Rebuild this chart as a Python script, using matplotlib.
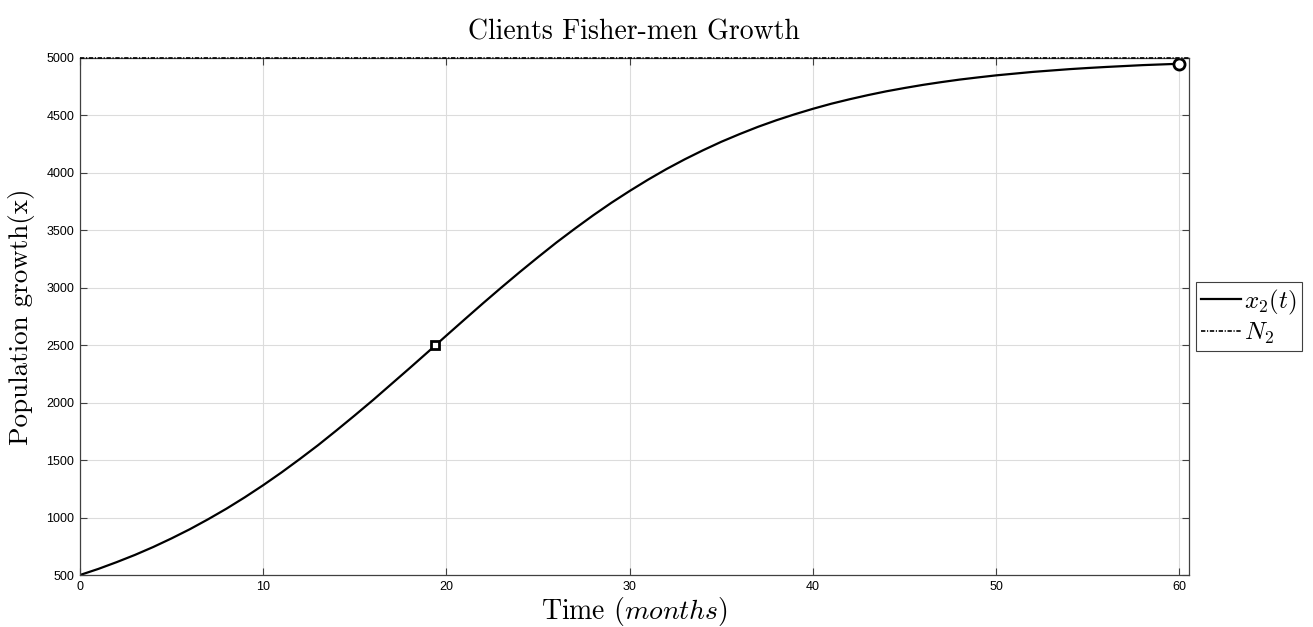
import matplotlib
matplotlib.use('Agg')
import matplotlib.pyplot as plt

plt.rcParams['mathtext.fontset'] = 'cm'
plt.rcParams['axes.unicode_minus'] = False

# time (months) and x2(t)
t = list(range(0, 61))
x2 = [500, 553, 612, 675, 744, 819, 899, 986, 1078, 1177,
      1282, 1393, 1510, 1631, 1759, 1890, 2024, 2163, 2302, 2443,
      2585, 2726, 2866, 3003, 3137, 3267, 3394, 3514, 3630, 3740,
      3843, 3941, 4033, 4118, 4197, 4271, 4338, 4401, 4458, 4510,
      4558, 4602, 4641, 4677, 4710, 4739, 4766, 4790, 4812, 4831,
      4849, 4864, 4879, 4891, 4903, 4913, 4922, 4930, 4938, 4944,
      4950]
N2 = 5000
t_half, x_half = 19.4, 2500   # inflection point (square)
t_end, x_end = 60, 4950       # final point (circle)

fig = plt.figure(figsize=(13.13, 6.27), dpi=100)
ax = fig.add_axes([0.0609, 0.0829, 0.8444, 0.8246])

ax.plot(t, x2, color='black', lw=1.6, label=r'$x_2(t)$')
ax.plot([0, 60.5], [N2, N2], color='black', lw=1.2,
        dashes=[2.6, 1.0, 0.7, 1.0], label=r'$N_2$',
        zorder=5, clip_on=False)
ax.plot(t_half, x_half, marker='s', ms=6, mfc='white', mec='black', mew=2)
ax.plot(t_end, x_end, marker='o', ms=8, mfc='white', mec='black', mew=2)

ax.set_xlim(0, 60.5)
ax.set_ylim(500, 5000)
ax.set_xticks(range(0, 61, 10))
ax.set_yticks(range(500, 5001, 500))
ax.grid(True, color='#dcdcdc', lw=0.8)
ax.set_axisbelow(True)
ax.tick_params(direction='in', length=5, top=True, right=True, labelsize=9,
               color='#404040', pad=4)
for lab in ax.get_xticklabels() + ax.get_yticklabels():
    lab.set_family('Liberation Sans')
for s in ax.spines.values():
    s.set_color('#404040')
    s.set_linewidth(0.9)

ax.set_title('Clients Fisher-men Growth', family='cmr10', fontsize=20, pad=13)
ax.set_xlabel(r'Time $(months)$', family='cmr10', fontsize=20, labelpad=2)
ax.set_ylabel('Population growth(x)', family='cmr10', fontsize=19.5, labelpad=8)

leg = ax.legend(loc='center left', bbox_to_anchor=(1.007, 0.5), fontsize=18,
                fancybox=False, framealpha=1, edgecolor='#404040',
                handlelength=1.6, handletextpad=0.1, borderpad=0.2,
                labelspacing=0.15, borderaxespad=0)
leg.get_frame().set_linewidth(0.8)

fig.savefig('out.png', dpi=100)
